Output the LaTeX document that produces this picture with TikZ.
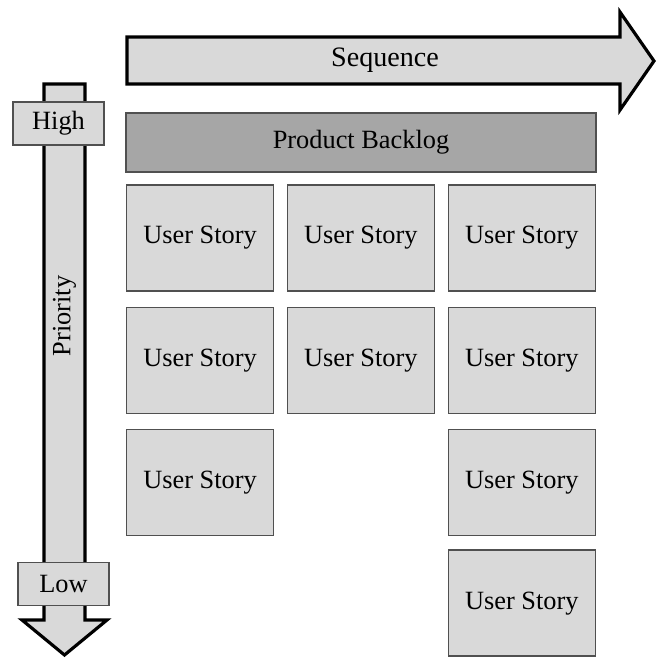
\documentclass[tikz,border=0pt]{standalone}
\usepackage{fontspec}
\setmainfont{Liberation Serif}
\usepackage{xcolor}
\usetikzlibrary{positioning}
\definecolor{cardgray}{HTML}{D9D9D9}
\definecolor{backloggray}{HTML}{A6A6A6}
\definecolor{edgegray}{HTML}{505050}

\begin{document}
\begin{tikzpicture}[
        x=0.02cm, y=-0.02cm,
        node distance=0.3cm and 0.25cm,
        every node/.style={font=\rmfamily\fontsize{15}{18}\selectfont},
        story/.style={draw=edgegray, fill=cardgray, line width=0.8pt, minimum width=2.94cm, minimum height=2.12cm, inner sep=0pt},
        tag/.style={draw=edgegray, fill=cardgray, line width=0.8pt, minimum width=1.82cm, minimum height=0.86cm, inner sep=0pt},
        bigarrow/.style={draw=black, fill=cardgray, line width=1.8pt, line join=miter},
    ]

    \useasboundingbox (0,0) rectangle (658,659);

    %% Sequence arrow
    \draw[bigarrow] (127,37) -- (620,37) -- (620,12) -- (654,61) -- (620,110) -- (620,84) -- (127,84) -- cycle;
    \node[font=\rmfamily\fontsize{16}{19}\selectfont] (seq) at (385,60) {Sequence};

    %% Priority arrow
    \draw[bigarrow] (44,84) -- (85,84) -- (85,620) -- (107,620) -- (64.5,655) -- (22,620) -- (44,620) -- cycle;
    \node[rotate=90] (prio) at (64.5,316) {Priority};
    \node[tag] (high) at (58.5,123.5) {High};
    \node[tag] (low) at (63.5,584) {Low};

    %% Backlog
    \node[draw=edgegray, fill=backloggray, line width=0.8pt, minimum width=9.4cm, minimum height=1.18cm, inner sep=0pt] (backlog) at (361,142.5) {Product Backlog};

    %% User stories
    \node[story] (s11) at (200,238) {User Story};
    \node[story, right=of s11] (s12) {User Story};
    \node[story, right=of s12] (s13) {User Story};
    \node[story, below=of s11] (s21) {User Story};
    \node[story, below=of s12] (s22) {User Story};
    \node[story, below=of s13] (s23) {User Story};
    \node[story, below=of s21] (s31) {User Story};
    \node[story, below=of s23] (s33) {User Story};
    \node[story, below=0.26cm of s33] (s43) {User Story};

\end{tikzpicture}
\end{document}
